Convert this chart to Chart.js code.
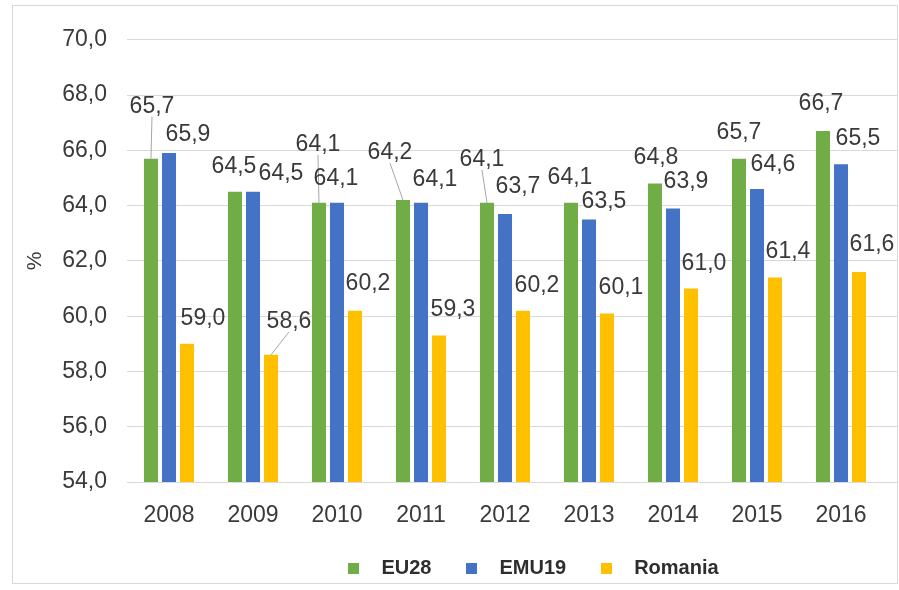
<!DOCTYPE html>
<html>
<head>
<meta charset="utf-8">
<script src="https://cdn.jsdelivr.net/npm/chart.js@4.4.1/dist/chart.umd.min.js"></script>
<style>
  html, body { margin: 0; padding: 0; background: #fff; }
  body { width: 899px; height: 590px; overflow: hidden; position: relative; }
  #frame { position: absolute; left: 12px; top: 5px; width: 884px; height: 577px;
           border: 1px solid #d9d9d9; overflow: hidden; background: #fff; }
  #myChart { display: block; }
</style>
</head>
<body>
<div id="frame"><canvas id="myChart" width="964" height="582"></canvas></div>
<script>
// years on the x axis (the last column runs off the right edge)
var years = ['2008', '2009', '2010', '2011', '2012', '2013', '2014', '2015', '2016', '2017'];

// employment rate, %
var eu28    = [65.7, 64.5, 64.1, 64.2, 64.1, 64.1, 64.8, 65.7, 66.7, null];
var emu19   = [65.9, 64.5, 64.1, 64.1, 63.7, 63.5, 63.9, 64.6, 65.5, null];
var romania = [59.0, 58.6, 60.2, 59.3, 60.2, 60.1, 61.0, 61.4, 61.6, null];

var yTicks = [54, 56, 58, 60, 62, 64, 66, 68, 70];

var colors = { eu28: '#70ad47', emu19: '#4472c4', romania: '#ffc000' };

// where each value label sits relative to the top of its bar [dx, dy]
var labelNudge = [
  [[1, -52], [-1, -25], [-1, -58], [-13, -47], [-5, -43], [-1, -25], [1, -26], [0, -26], [-2, -27]],
  [[19, -18], [28, -18], [-1, -24], [14, -23], [13, -27], [15, -18], [13, -27], [16, -24], [17, -26]],
  [[16, -25], [18, -33], [13, -27], [14, -26], [14, -25], [14, -26], [13, -25], [13, -26], [13, -27]]
];
// labels pulled away from their bar get a thin leader line [dataset, index]
var leaders = ['0-0', '0-2', '0-3', '0-4', '2-1'];

var FONT = '"Liberation Sans", Arial, sans-serif';
var TEXT = '#3a3a3a';
Chart.defaults.font.family = FONT;

function fmt(v) {
  return v.toFixed(1).replace('.', ',');
}

function swatch(color) {
  var c = document.createElement('canvas');
  c.width = 11;
  c.height = 11;
  var g = c.getContext('2d');
  g.fillStyle = color;
  g.fillRect(0, 0, 11, 11);
  return c;
}

var barLabels = {
  id: 'barLabels',
  afterDatasetsDraw: function(chart) {
    var ctx = chart.ctx;
    ctx.save();
    ctx.font = '23px ' + FONT;
    ctx.textAlign = 'center';
    ctx.textBaseline = 'middle';
    chart.data.datasets.forEach(function(ds, d) {
      var meta = chart.getDatasetMeta(d);
      meta.data.forEach(function(bar, i) {
        var v = ds.data[i];
        if (v === null || v === undefined) return;
        var off = labelNudge[d][i];
        var lx = bar.x + off[0];
        var ly = bar.y + off[1];
        if (leaders.indexOf(d + '-' + i) >= 0) {
          ctx.strokeStyle = '#a6a6a6';
          ctx.lineWidth = 1;
          ctx.beginPath();
          ctx.moveTo(lx, ly + 10);
          ctx.lineTo(bar.x, bar.y);
          ctx.stroke();
        }
        ctx.fillStyle = TEXT;
        ctx.fillText(fmt(v), lx, ly);
      });
    });
    ctx.restore();
  }
};

// centre the legend under the whole chart rather than the canvas
var legendShift = {
  id: 'legendShift',
  afterLayout: function(chart) {
    chart.legend.left += 37;
    chart.legend.right += 37;
  }
};

var ctx = document.getElementById('myChart');

var data = {
  labels: years,
  datasets: [
    { label: 'EU28', data: eu28, backgroundColor: colors.eu28 },
    { label: 'EMU19', data: emu19, backgroundColor: colors.emu19 },
    { label: 'Romania', data: romania, backgroundColor: colors.romania }
  ]
};

var myChart = new Chart(ctx, {
  type: 'bar',
  data: data,
  options: {
    responsive: false,
    animation: false,
    datasets: {
      bar: { barPercentage: 0.78, categoryPercentage: 0.643 }
    },
    layout: { padding: { top: 29, left: 0, right: 10, bottom: 0 } },
    scales: {
      x: {
        grid: { display: false },
        border: { display: true, color: '#d9d9d9' },
        ticks: { color: TEXT, font: { size: 23 }, padding: 12, maxRotation: 0, autoSkip: false },
        afterFit: function(scale) { scale.height = 54; }
      },
      y: {
        min: yTicks[0],
        max: yTicks[yTicks.length - 1],
        grid: { color: '#d9d9d9', lineWidth: 1, drawTicks: false },
        border: { display: false },
        ticks: {
          stepSize: 2,
          padding: 20,
          color: TEXT,
          font: { size: 23 },
          callback: function(v) { return fmt(v); }
        },
        title: { display: true, text: '%', color: TEXT, font: { size: 21 }, padding: { top: 10, bottom: 0 } },
        afterFit: function(scale) { scale.width = 114; }
      }
    },
    plugins: {
      tooltip: { enabled: false },
      legend: {
        position: 'bottom',
        labels: {
          usePointStyle: true,
          pointStyleWidth: 36,
          padding: 22,
          color: '#2e2e2e',
          font: { size: 20, weight: 'bold' },
          generateLabels: function(chart) {
            var items = Chart.defaults.plugins.legend.labels.generateLabels(chart);
            var fills = [colors.eu28, colors.emu19, colors.romania];
            items.forEach(function(it, i) { it.pointStyle = swatch(fills[i]); });
            return items;
          }
        }
      }
    }
  },
  plugins: [barLabels, legendShift]
});
</script>
</body>
</html>
